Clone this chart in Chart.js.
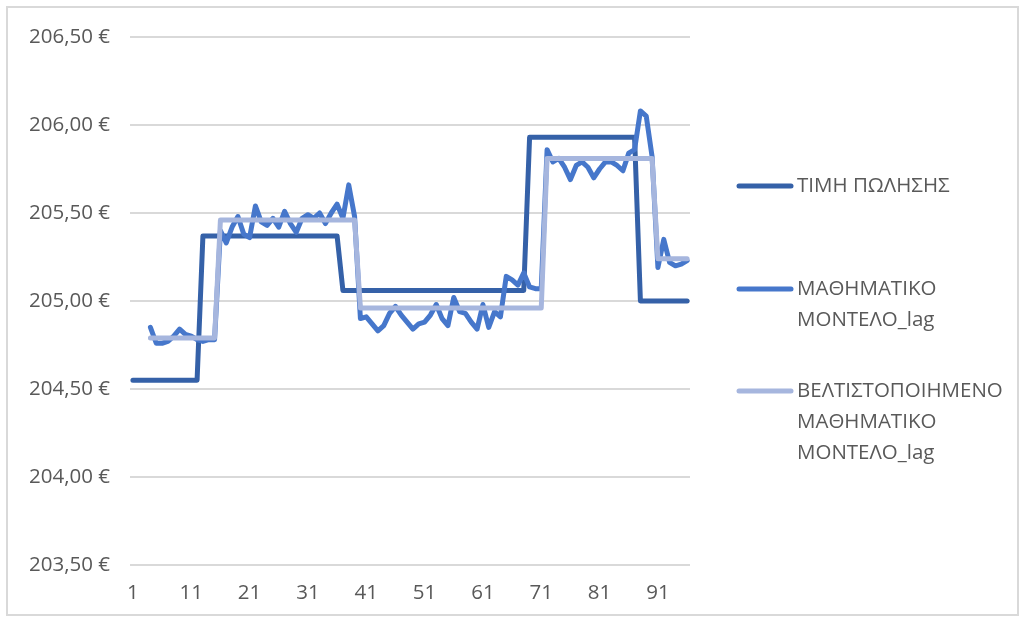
<!DOCTYPE html>
<html lang="el">
<head>
<meta charset="utf-8">
<title>ΤΙΜΗ ΠΩΛΗΣΗΣ</title>
<script src="https://cdn.jsdelivr.net/npm/chart.js@4/dist/chart.umd.min.js"></script>
<style>
  html, body { margin: 0; padding: 0; background: #ffffff; }
  #wrap { position: relative; width: 1026px; height: 621px; }
  #frame {
    position: absolute; left: 6px; top: 6px; width: 1013px; height: 610px;
    border: 2px solid #d9d9d9; pointer-events: none; box-sizing: border-box;
  }
  canvas { display: block; }
</style>
</head>
<body>
<div id="wrap">
  <canvas id="chart" width="1026" height="621"></canvas>
  <div id="frame"></div>
</div>
<script>
// Observation index (1..96)
const categories = [
  1, 2, 3, 4, 5, 6, 7, 8, 9, 10, 11, 12, 13, 14, 15, 16, 17, 18, 19, 20,
  21, 22, 23, 24, 25, 26, 27, 28, 29, 30, 31, 32, 33, 34, 35, 36, 37, 38, 39, 40,
  41, 42, 43, 44, 45, 46, 47, 48, 49, 50, 51, 52, 53, 54, 55, 56, 57, 58, 59, 60,
  61, 62, 63, 64, 65, 66, 67, 68, 69, 70, 71, 72, 73, 74, 75, 76, 77, 78, 79, 80,
  81, 82, 83, 84, 85, 86, 87, 88, 89, 90, 91, 92, 93, 94, 95, 96
];

// Labels printed under the x axis
const xTickLabels = ['1', '11', '21', '31', '41', '51', '61', '71', '81', '91'];

// Values printed on the y axis
const yTicks = [203.5, 204.0, 204.5, 205.0, 205.5, 206.0, 206.5];

// ΤΙΜΗ ΠΩΛΗΣΗΣ
const salePrice = [
  204.55, 204.55, 204.55, 204.55, 204.55, 204.55, 204.55, 204.55, 204.55, 204.55,
  204.55, 204.55, 205.37, 205.37, 205.37, 205.37, 205.37, 205.37, 205.37, 205.37,
  205.37, 205.37, 205.37, 205.37, 205.37, 205.37, 205.37, 205.37, 205.37, 205.37,
  205.37, 205.37, 205.37, 205.37, 205.37, 205.37, 205.06, 205.06, 205.06, 205.06,
  205.06, 205.06, 205.06, 205.06, 205.06, 205.06, 205.06, 205.06, 205.06, 205.06,
  205.06, 205.06, 205.06, 205.06, 205.06, 205.06, 205.06, 205.06, 205.06, 205.06,
  205.06, 205.06, 205.06, 205.06, 205.06, 205.06, 205.06, 205.06, 205.93, 205.93,
  205.93, 205.93, 205.93, 205.93, 205.93, 205.93, 205.93, 205.93, 205.93, 205.93,
  205.93, 205.93, 205.93, 205.93, 205.93, 205.93, 205.93, 205.00, 205.00, 205.00,
  205.00, 205.00, 205.00, 205.00, 205.00, 205.00
];

// ΜΑΘΗΜΑΤΙΚΟ ΜΟΝΤΕΛΟ_lag
const modelLag = [
  null, null, null, 204.85, 204.76, 204.76, 204.77, 204.80, 204.84, 204.81,
  204.80, 204.78, 204.77, 204.78, 204.78, 205.40, 205.33, 205.42, 205.48, 205.38,
  205.36, 205.54, 205.45, 205.43, 205.47, 205.42, 205.51, 205.44, 205.39, 205.47,
  205.49, 205.47, 205.50, 205.44, 205.50, 205.55, 205.47, 205.66, 205.48, 204.90,
  204.91, 204.87, 204.83, 204.86, 204.93, 204.97, 204.92, 204.88, 204.84, 204.87,
  204.88, 204.92, 204.98, 204.90, 204.86, 205.02, 204.94, 204.93, 204.88, 204.84,
  204.98, 204.85, 204.94, 204.91, 205.14, 205.12, 205.09, 205.16, 205.08, 205.07,
  205.07, 205.86, 205.79, 205.81, 205.76, 205.69, 205.77, 205.79, 205.76, 205.70,
  205.75, 205.79, 205.79, 205.77, 205.74, 205.84, 205.86, 206.08, 206.05, 205.82,
  205.19, 205.35, 205.22, 205.20, 205.21, 205.23
];

// ΒΕΛΤΙΣΤΟΠΟΙΗΜΕΝΟ ΜΑΘΗΜΑΤΙΚΟ ΜΟΝΤΕΛΟ_lag
const optimizedLag = [
  null, null, null, 204.79, 204.79, 204.79, 204.79, 204.79, 204.79, 204.79,
  204.79, 204.79, 204.79, 204.79, 204.79, 205.46, 205.46, 205.46, 205.46, 205.46,
  205.46, 205.46, 205.46, 205.46, 205.46, 205.46, 205.46, 205.46, 205.46, 205.46,
  205.46, 205.46, 205.46, 205.46, 205.46, 205.46, 205.46, 205.46, 205.46, 204.96,
  204.96, 204.96, 204.96, 204.96, 204.96, 204.96, 204.96, 204.96, 204.96, 204.96,
  204.96, 204.96, 204.96, 204.96, 204.96, 204.96, 204.96, 204.96, 204.96, 204.96,
  204.96, 204.96, 204.96, 204.96, 204.96, 204.96, 204.96, 204.96, 204.96, 204.96,
  204.96, 205.81, 205.81, 205.81, 205.81, 205.81, 205.81, 205.81, 205.81, 205.81,
  205.81, 205.81, 205.81, 205.81, 205.81, 205.81, 205.81, 205.81, 205.81, 205.81,
  205.24, 205.24, 205.24, 205.24, 205.24, 205.24
];

// Series names as they wrap in the legend
const seriesNames = [
  ['ΤΙΜΗ ΠΩΛΗΣΗΣ'],
  ['ΜΑΘΗΜΑΤΙΚΟ', 'ΜΟΝΤΕΛΟ_lag'],
  ['ΒΕΛΤΙΣΤΟΠΟΙΗΜΕΝΟ', 'ΜΑΘΗΜΑΤΙΚΟ', 'ΜΟΝΤΕΛΟ_lag']
];

const TEXT_COLOR = '#595959';
const FONT_FAMILY = "'Open Sans', 'Noto Sans', 'DejaVu Sans', sans-serif";

// Legend on the right: a line swatch then the wrapped name
const sideLegend = {
  id: 'sideLegend',
  afterDraw(chart, args, opts) {
    const ctx = chart.ctx;
    ctx.save();
    ctx.font = opts.fontSize + 'px ' + FONT_FAMILY;
    ctx.fillStyle = TEXT_COLOR;
    ctx.textBaseline = 'middle';
    ctx.textAlign = 'left';
    chart.data.datasets.forEach((ds, i) => {
      const y = opts.rows[i];
      ctx.strokeStyle = ds.borderColor;
      ctx.lineWidth = ds.borderWidth;
      ctx.lineCap = 'round';
      ctx.beginPath();
      ctx.moveTo(opts.x, y);
      ctx.lineTo(opts.x + opts.swatch, y);
      ctx.stroke();
      ds.legendLines.forEach((line, j) => {
        ctx.fillText(line, opts.textX, y + j * opts.lineGap);
      });
    });
    ctx.restore();
  }
};

const lineStyle = {
  borderWidth: 5,
  pointRadius: 0,
  pointHoverRadius: 0,
  tension: 0,
  fill: false,
  borderJoinStyle: 'round',
  borderCapStyle: 'round',
  spanGaps: false
};

new Chart(document.getElementById('chart'), {
  type: 'line',
  data: {
    labels: categories,
    datasets: [
      Object.assign({
        label: seriesNames[0].join(' '),
        legendLines: seriesNames[0],
        data: salePrice,
        borderColor: '#3561a8',
        backgroundColor: '#3561a8',
        order: 3
      }, lineStyle),
      Object.assign({
        label: seriesNames[1].join(' '),
        legendLines: seriesNames[1],
        data: modelLag,
        borderColor: '#4677cb',
        backgroundColor: '#4677cb',
        order: 2
      }, lineStyle),
      Object.assign({
        label: seriesNames[2].join(' '),
        legendLines: seriesNames[2],
        data: optimizedLag,
        borderColor: '#a6b6de',
        backgroundColor: '#a6b6de',
        order: 1
      }, lineStyle)
    ]
  },
  options: {
    responsive: false,
    animation: false,
    devicePixelRatio: 1,
    layout: { padding: { left: 0, top: 37, right: 336, bottom: 0 } },
    plugins: {
      legend: { display: false },
      tooltip: { enabled: false },
      sideLegend: { x: 739, swatch: 52, textX: 797, rows: [186, 289, 391], lineGap: 31, fontSize: 20.5 }
    },
    scales: {
      x: {
        type: 'category',
        offset: true,
        grid: { display: false, drawTicks: false },
        border: { display: false },
        ticks: {
          autoSkip: false,
          maxRotation: 0,
          minRotation: 0,
          padding: 16,
          color: TEXT_COLOR,
          font: { family: FONT_FAMILY, size: 20.5 },
          callback(value, index) {
            const lbl = String(categories[index]);
            return xTickLabels.includes(lbl) ? lbl : '';
          }
        },
        afterFit(scale) { scale.height = 56; }
      },
      y: {
        min: yTicks[0],
        max: yTicks[yTicks.length - 1],
        grid: { color: '#d9d9d9', lineWidth: 2, drawTicks: false },
        border: { display: false },
        afterBuildTicks(scale) { scale.ticks = yTicks.map(v => ({ value: v })); },
        ticks: {
          padding: 20,
          color: TEXT_COLOR,
          font: { family: FONT_FAMILY, size: 20.5 },
          callback(value) { return value.toFixed(2).replace('.', ',') + ' €'; }
        },
        afterFit(scale) { scale.width = 130; }
      }
    }
  },
  plugins: [sideLegend]
});
</script>
</body>
</html>
